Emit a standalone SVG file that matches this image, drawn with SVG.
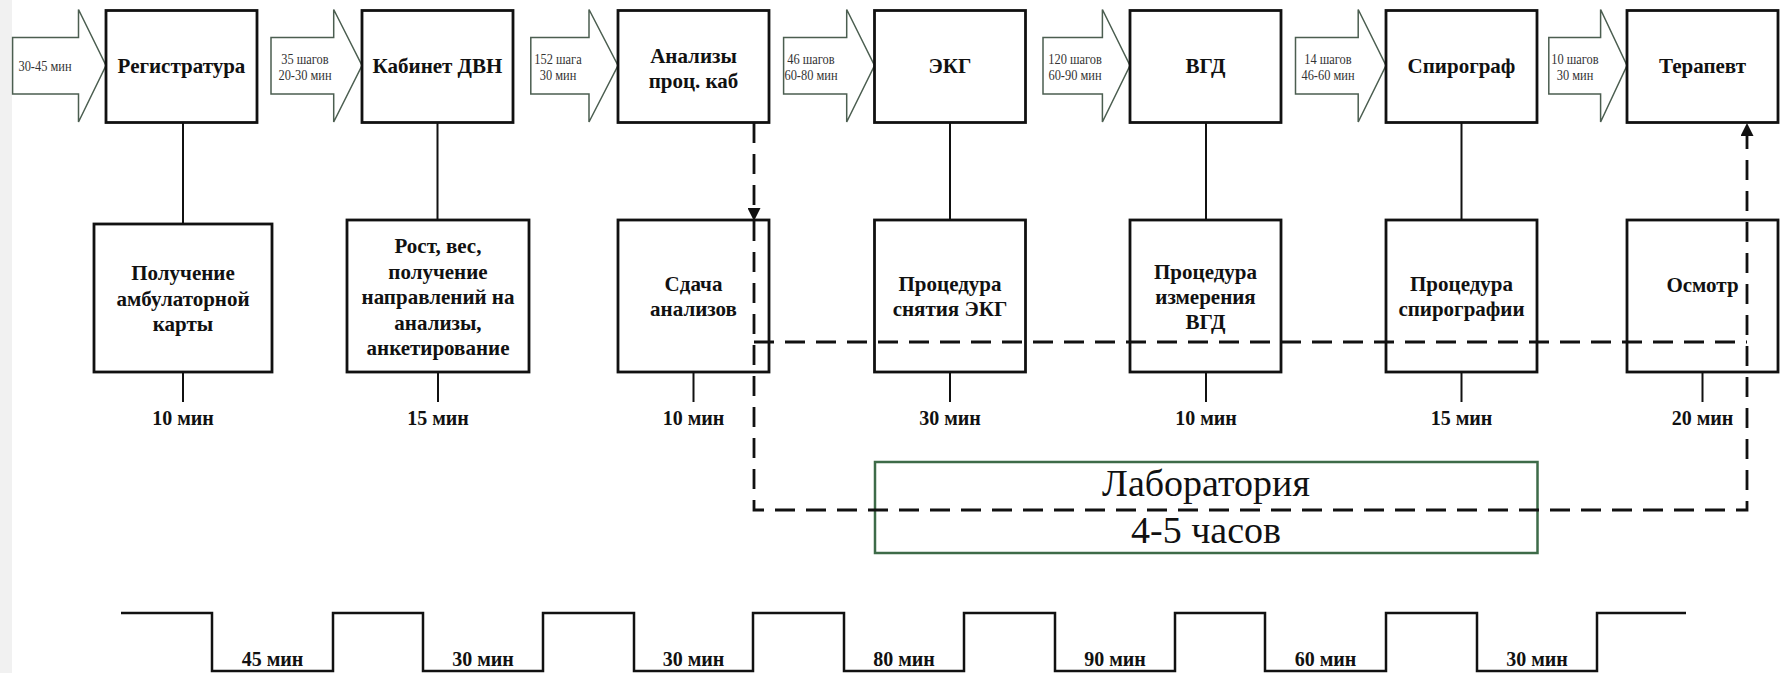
<svg xmlns="http://www.w3.org/2000/svg" width="1781" height="673" viewBox="0 0 1781 673">
<defs>
<style>
.box{fill:#fff;stroke:#111;stroke-width:2.8}
.arr{fill:#fff;stroke:#4b5e50;stroke-width:1.5;stroke-linejoin:miter}
.bt{font-family:"Liberation Serif","Times New Roman",serif;font-weight:bold;font-size:21px;fill:#111;text-anchor:middle}
.at{font-family:"Liberation Serif","Times New Roman",serif;font-size:15.5px;fill:#333;text-anchor:middle}
.ml{font-family:"Liberation Serif","Times New Roman",serif;font-weight:bold;font-size:20px;fill:#111;text-anchor:middle}
.ln{stroke:#111;stroke-width:2;fill:none}
.dash{stroke:#111;stroke-width:2.8;fill:none;stroke-dasharray:20 11}
.lab{fill:#fff;stroke:#3d6b48;stroke-width:2.5}
.lt{font-family:"Liberation Serif","Times New Roman",serif;font-size:38px;fill:#111;text-anchor:middle}
.tl{stroke:#111;stroke-width:2.5;fill:none}
</style>
<marker id="ah" viewBox="0 0 13 13" markerWidth="13" markerHeight="13" refX="7" refY="6.5" orient="auto" markerUnits="userSpaceOnUse">
<path d="M0,0 L13,6.5 L0,13 z" fill="#111"/>
</marker>
</defs>
<rect x="0" y="0" width="1781" height="673" fill="#fff"/>
<rect x="0" y="0" width="12" height="673" fill="#f1f1f1"/>

<g id="flow-arrows">
<g id="arrow1"><polygon class="arr" points="12.6,37.5 78.5,37.5 78.5,9.5 106,65.5 78.5,122 78.5,94 12.6,94"/><text class="at" transform="translate(45,71) scale(0.8,1)">30-45 мин</text></g>
<g id="arrow2"><polygon class="arr" points="271,37.5 333.7,37.5 333.7,9.5 362,65.5 333.7,122 333.7,94 271,94"/><text class="at" transform="translate(305,64) scale(0.8,1)">35 шагов</text><text class="at" transform="translate(305,80) scale(0.8,1)">20-30 мин</text></g>
<g id="arrow3"><polygon class="arr" points="530.8,37.5 589,37.5 589,9.5 618,65.5 589,122 589,94 530.8,94"/><text class="at" transform="translate(558,64) scale(0.8,1)">152 шага</text><text class="at" transform="translate(558,80) scale(0.8,1)">30 мин</text></g>
<g id="arrow4"><polygon class="arr" points="783.6,37.5 846.7,37.5 846.7,9.5 874.5,65.5 846.7,122 846.7,94 783.6,94"/><text class="at" transform="translate(811,64) scale(0.8,1)">46 шагов</text><text class="at" transform="translate(811,80) scale(0.8,1)">60-80 мин</text></g>
<g id="arrow5"><polygon class="arr" points="1043,37.5 1102.4,37.5 1102.4,9.5 1130,65.5 1102.4,122 1102.4,94 1043,94"/><text class="at" transform="translate(1075,64) scale(0.8,1)">120 шагов</text><text class="at" transform="translate(1075,80) scale(0.8,1)">60-90 мин</text></g>
<g id="arrow6"><polygon class="arr" points="1295.5,37.5 1358.2,37.5 1358.2,9.5 1386,65.5 1358.2,122 1358.2,94 1295.5,94"/><text class="at" transform="translate(1328,64) scale(0.8,1)">14 шагов</text><text class="at" transform="translate(1328,80) scale(0.8,1)">46-60 мин</text></g>
<g id="arrow7"><polygon class="arr" points="1548.8,37.5 1600.6,37.5 1600.6,9.5 1627,65.5 1600.6,122 1600.6,94 1548.8,94"/><text class="at" transform="translate(1575,64) scale(0.8,1)">10 шагов</text><text class="at" transform="translate(1575,80) scale(0.8,1)">30 мин</text></g>
</g>

<g id="connectors-solid">
<line class="ln" x1="183" y1="123" x2="183" y2="224"/>
<line class="ln" x1="437.5" y1="123" x2="437.5" y2="220"/>
<line class="ln" x1="950" y1="123" x2="950" y2="220"/>
<line class="ln" x1="1206" y1="123" x2="1206" y2="220"/>
<line class="ln" x1="1461.5" y1="123" x2="1461.5" y2="220"/>
<line class="ln" x1="183" y1="372" x2="183" y2="402"/>
<line class="ln" x1="438" y1="372" x2="438" y2="402"/>
<line class="ln" x1="693.5" y1="372" x2="693.5" y2="402"/>
<line class="ln" x1="950" y1="372" x2="950" y2="402"/>
<line class="ln" x1="1206" y1="372" x2="1206" y2="402"/>
<line class="ln" x1="1461.5" y1="372" x2="1461.5" y2="402"/>
<line class="ln" x1="1702.5" y1="372" x2="1702.5" y2="402"/>
</g>

<g id="top-nodes">
<g id="registratura"><rect class="box" x="106" y="10.5" width="151" height="112"/><text class="bt" x="181.5" y="73">Регистратура</text></g>
<g id="kabinet-dvn"><rect class="box" x="362" y="10.5" width="151" height="112"/><text class="bt" x="437.5" y="73">Кабинет ДВН</text></g>
<g id="analizy"><rect class="box" x="618" y="10.5" width="151" height="112"/><text class="bt" x="693.5" y="63">Анализы</text><text class="bt" x="693.5" y="88">проц. каб</text></g>
<g id="ekg"><rect class="box" x="874.5" y="10.5" width="151" height="112"/><text class="bt" x="950" y="73">ЭКГ</text></g>
<g id="vgd"><rect class="box" x="1130" y="10.5" width="151" height="112"/><text class="bt" x="1205.5" y="73">ВГД</text></g>
<g id="spirograf"><rect class="box" x="1386" y="10.5" width="151" height="112"/><text class="bt" x="1461.5" y="73">Спирограф</text></g>
<g id="terapevt"><rect class="box" x="1627" y="10.5" width="151" height="112"/><text class="bt" x="1702.5" y="73">Терапевт</text></g>
</g>

<g id="lower-nodes">
<g id="poluchenie-karty"><rect class="box" x="94" y="224" width="178" height="148"/><text class="bt" x="183" y="280">Получение</text><text class="bt" x="183" y="305.5">амбулаторной</text><text class="bt" x="183" y="331">карты</text></g>
<g id="rost-ves"><rect class="box" x="347" y="220" width="182" height="152"/><text class="bt" x="438" y="253">Рост, вес,</text><text class="bt" x="438" y="279">получение</text><text class="bt" x="438" y="304">направлений на</text><text class="bt" x="438" y="330">анализы,</text><text class="bt" x="438" y="355">анкетирование</text></g>
<g id="sdacha-analizov"><rect class="box" x="618" y="220" width="151" height="152"/><text class="bt" x="693.5" y="291">Сдача</text><text class="bt" x="693.5" y="316">анализов</text></g>
<g id="procedura-ekg"><rect class="box" x="874.5" y="220" width="151" height="152"/><text class="bt" x="950" y="291">Процедура</text><text class="bt" x="950" y="316">снятия ЭКГ</text></g>
<g id="procedura-vgd"><rect class="box" x="1130" y="220" width="151" height="152"/><text class="bt" x="1205.5" y="279">Процедура</text><text class="bt" x="1205.5" y="304">измерения</text><text class="bt" x="1205.5" y="329">ВГД</text></g>
<g id="procedura-spiro"><rect class="box" x="1386" y="220" width="151" height="152"/><text class="bt" x="1461.5" y="291">Процедура</text><text class="bt" x="1461.5" y="316">спирографии</text></g>
<g id="osmotr"><rect class="box" x="1627" y="220" width="151" height="152"/><text class="bt" x="1702.5" y="292">Осмотр</text></g>
</g>

<g id="durations">
<text class="ml" x="183" y="425">10 мин</text>
<text class="ml" x="438" y="425">15 мин</text>
<text class="ml" x="693.5" y="425">10 мин</text>
<text class="ml" x="950" y="425">30 мин</text>
<text class="ml" x="1206" y="425">10 мин</text>
<text class="ml" x="1461.5" y="425">15 мин</text>
<text class="ml" x="1702.5" y="425">20 мин</text>
</g>

<g id="laboratoriya">
<rect class="lab" x="875" y="462" width="662.5" height="91"/>
<text class="lt" x="1206" y="496">Лаборатория</text>
<text class="lt" x="1206" y="543">4-5 часов</text>
</g>

<g id="connectors-dashed">
<path class="dash" d="M754,123 V215" marker-end="url(#ah)"/>
<path class="dash" d="M754,221 V510 H1747 V129" marker-end="url(#ah)"/>
<path class="dash" d="M754,342 H1747"/>
</g>

<g id="timeline">
<path class="tl" d="M121,613 H212 V671 H333 V613 H423 V671 H543 V613 H634 V671 H753 V613 H844 V671 H964 V613 H1055 V671 H1175 V613 H1265 V671 H1386 V613 H1477 V671 H1597 V613 H1686"/>
<text class="ml" x="272.5" y="666">45 мин</text>
<text class="ml" x="483" y="666">30 мин</text>
<text class="ml" x="693.5" y="666">30 мин</text>
<text class="ml" x="904" y="666">80 мин</text>
<text class="ml" x="1115" y="666">90 мин</text>
<text class="ml" x="1325.5" y="666">60 мин</text>
<text class="ml" x="1537" y="666">30 мин</text>
</g>
</svg>
